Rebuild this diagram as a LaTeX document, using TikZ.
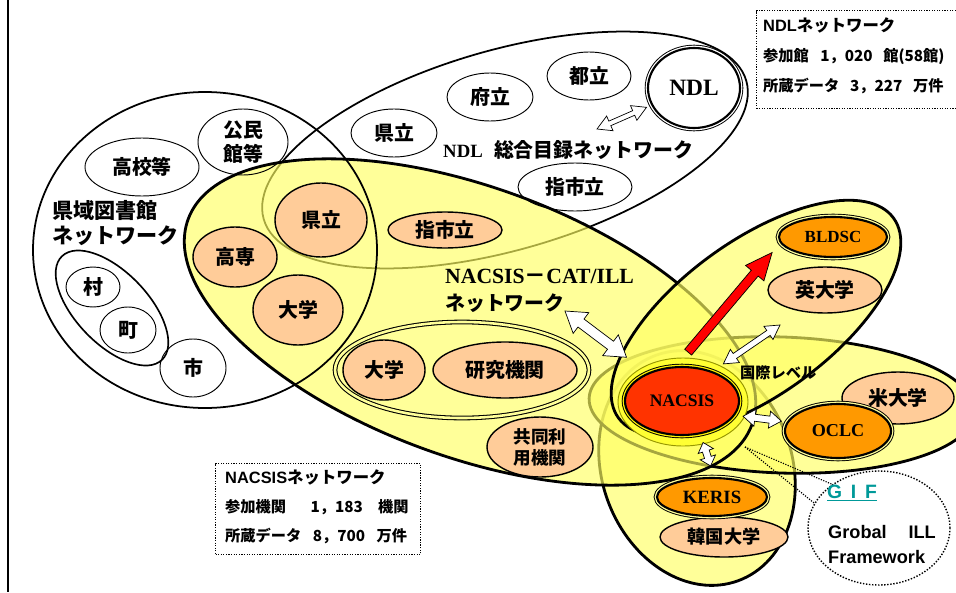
\documentclass[tikz,border=0pt]{standalone}
\usepackage{fontspec}
\setmainfont{Liberation Serif}
\setsansfont{Liberation Sans}
\newfontfamily\cjk{Noto Sans CJK JP}
\usetikzlibrary{calc, shapes.geometric}
\definecolor{netyellow}{RGB}{255,255,98}
\definecolor{paleyellow}{RGB}{255,255,153}
\definecolor{peach}{RGB}{255,204,153}
\definecolor{hubOrange}{RGB}{255,153,0}
\definecolor{hubRed}{RGB}{255,51,0}
\definecolor{haloYellow}{RGB}{255,255,51}
\definecolor{haloLine}{RGB}{150,150,0}
\definecolor{gifTeal}{RGB}{0,153,153}

\begin{document}
\begin{tikzpicture}[x=0.3mm, y=-0.3mm]
\tikzset{ell/.style 2 args={shape=ellipse, inner sep=0pt,
	minimum width=#1*0.6mm, minimum height=#2*0.6mm}}
\tikzset{jp/.style={font=\cjk\bfseries\fontsize{17}{21}\selectfont, align=center}}
\tikzset{lib/.style={draw, line width=0.8pt, jp}}
\tikzset{member/.style={draw, fill=peach, line width=1.2pt, jp}}
\tikzset{net/.style={draw, line width=2.4pt, fill=netyellow, fill opacity=0.65}}
\tikzset{hub/.style={draw, line width=1.8pt, font=\bfseries\fontsize{15}{18}\selectfont,
	preaction={draw=black, line width=5.6pt},
	preaction={draw=#1, line width=4pt}}}
\tikzset{info/.style={anchor=west, inner sep=0pt, font=\cjk\bfseries\fontsize{13}{15}\selectfont}}
\tikzset{infobox/.style={draw, line width=1pt, dash pattern=on 1pt off 1.2pt, inner sep=0pt, anchor=north west}}
\tikzset{callout/.style={line width=1pt, dash pattern=on 1pt off 1.2pt}}
\tikzset{twoway/.style n args={3}{to path={
	(\tikztostart) coordinate (twS) (\tikztotarget) coordinate (twT)
	($(twS)!#3!(twT)$) coordinate (twA) ($(twT)!#3!(twS)$) coordinate (twB)
	(twS) -- ($(twA)!#2!90:(twT)$) -- ($(twA)!#1!90:(twT)$)
	-- ($(twB)!#1!90:(twT)$) -- ($(twB)!#2!90:(twT)$) -- (twT)
	-- ($(twB)!#2!-90:(twT)$) -- ($(twB)!#1!-90:(twT)$)
	-- ($(twA)!#1!-90:(twT)$) -- ($(twA)!#2!-90:(twT)$) -- cycle}}}
\tikzset{oneway/.style n args={3}{to path={
	(\tikztostart) coordinate (owS) (\tikztotarget) coordinate (owT)
	($(owT)!#3!(owS)$) coordinate (owB)
	($(owS)!#1!90:(owT)$) -- ($(owB)!#1!90:(owT)$) -- ($(owB)!#2!90:(owT)$) -- (owT)
	-- ($(owB)!#2!-90:(owT)$) -- ($(owB)!#1!-90:(owT)$) -- ($(owS)!#1!-90:(owT)$) -- cycle}}}
\tikzset{link/.style={fill=white, line width=0.6pt}}

\useasboundingbox (0,0) rectangle (956,592);
\clip (0,0) rectangle (956,592);
\draw[line width=1.7pt] (8,0) -- (8,592);

% networks
\node[ell={251}{100}, draw, line width=1.5pt, rotate=16] (ndlNet) at (505,150) {};
\node[net, ell={120}{95}, rotate=-70] (kerisNet) at (697,468) {};
\node[net, ell={193}{68}, rotate=-2] (oclcNet) at (782,405) {};
\node[net, ell={300}{135}, rotate=-20] (nacsisNet) at (470,322) {};
\node[net, ell={170}{77}, rotate=36] (bldscNet) at (756,318) {};
\node[ell={172}{158}, draw, line width=1.5pt] (prefNet) at (205,250) {};

% prefectural libraries
\node[lib, ell={57}{29}] (koukou) at (142,167) {高校等};
\node[lib, ell={45}{33}] (kouminkan) at (243,142) {公民\\館等};
\node[ell={72}{36}, draw, line width=1.4pt, rotate=-46] (villages) at (112,308) {};
\node[lib, ell={27}{20}] (mura) at (93,287) {村};
\node[lib, ell={28}{23}] (machi) at (128,330) {町};
\node[lib, ell={33}{29}] (shi) at (193,368) {市};
\node[anchor=west, inner sep=0pt, align=left, font=\cjk\bfseries\fontsize{18}{22}\selectfont] (prefLabel) at (52,223) {県域図書館\\ネットワーク};

% NDL union catalog
\node[lib, ell={43}{24}] (ndlKen) at (394,133) {県立};
\node[lib, ell={43}{24}] (ndlFu) at (490,97) {府立};
\node[lib, ell={42}{24}] (ndlTo) at (589,76) {都立};
\node[lib, ell={57}{24}] (ndlShi) at (575,187) {指市立};
\node[hub=white, ell={46}{40}, fill=white, font=\bfseries\fontsize{20}{24}\selectfont] (ndl) at (694,88) {NDL};
\node[anchor=west, inner sep=0pt, font=\bfseries\fontsize{16}{19}\selectfont] (ndlLabel) at (443,150) {NDL\hspace{0.6em}{\cjk\fontsize{17}{19}\selectfont 総合目録ネットワーク}};

% NACSIS-CAT/ILL members
\node[member, ell={46}{37}] (catKen) at (321,220) {県立};
\node[member, ell={42}{30}] (catKosen) at (235,257) {高専};
\node[member, ell={45}{35}] (catUniv) at (298,310) {大学};
\node[member, ell={57}{18}] (catShi) at (445,230) {指市立};
\node[ell={127}{48}, draw, line width=0.9pt, double=paleyellow, double distance=2.2pt] (uniGroup) at (462,370) {};
\node[member, ell={41}{30}] (uniUniv) at (384,370) {大学};
\node[member, ell={72}{28}] (uniInst) at (505,370) {研究機関};
\node[member, ell={53}{30}, font=\cjk\bfseries\fontsize{15}{18}\selectfont] (kyodo) at (540,447) {共同利\\用機関};
\node[anchor=west, inner sep=0pt, align=left, font=\bfseries\fontsize{18.5}{23}\selectfont] (catLabel) at (445,291) {NACSIS{\cjk －}CAT/ILL\\{\cjk\fontsize{17}{23}\selectfont ネットワーク}};

% overseas
\node[member, ell={57}{23}] (ukUniv) at (825,290) {英大学};
\node[member, ell={56}{26}] (usUniv) at (898,398) {米大学};
\node[member, ell={64}{20}, font=\cjk\bfseries\fontsize{15.5}{18}\selectfont] (krUniv) at (724,537) {韓国大学};
\node[hub=paleyellow, ell={54}{20}, fill=hubOrange, font=\bfseries\fontsize{14.5}{17}\selectfont] (bldsc) at (833,237) {BLDSC};
\node[hub=paleyellow, ell={53}{27}, fill=hubOrange, font=\bfseries\fontsize{15.5}{18}\selectfont] (oclc) at (838,431) {OCLC};
\node[hub=paleyellow, ell={55}{19}, fill=hubOrange, font=\bfseries\fontsize{16}{19}\selectfont] (keris) at (712,497) {KERIS};
\node[ell={65}{44}, fill=haloYellow, draw=haloLine, line width=0.8pt] (halo) at (683,402) {};
\node[hub=yellow, ell={57}{34}, fill=hubRed] (nacsis) at (682,401) {NACSIS};
\node[anchor=west, inner sep=0pt, font=\cjk\bfseries\fontsize{13}{15}\selectfont] (intlLabel) at (740,373) {国際レベル};

% links
\coordinate (ndlEnd) at (597,129);
\coordinate (catEnd) at (565,311);
\coordinate (intlEnd) at (780,325);
\draw[link, twoway={0.75mm}{2.4mm}{4.2mm}] (ndlEnd) to ($(ndl.205)+(-6,0)$);
\draw[link, twoway={1.5mm}{3.9mm}{6mm}] (catEnd) to ($(nacsis.142)+(-20,-16)$);
\draw[link, twoway={0.9mm}{2.4mm}{4.2mm}] ($(nacsis.42)+(9,-8)$) to (intlEnd);
\draw[link, twoway={1.05mm}{2.55mm}{3.6mm}] ($(nacsis.-15)+(8,1)$) to ($(oclc.169)+(-6,0)$);
\draw[link, twoway={1.05mm}{2.4mm}{2.7mm}] ($(nacsis.-63)+(4,8)$) to ($(keris.94)+(0,-11)$);
\draw[link, fill=red, oneway={1.35mm}{3.6mm}{8.1mm}] ($(nacsis.80)+(0,-14)$) to ($(bldsc.200)+(-21,1)$);

% GIF
\node[ell={71}{57}, draw, line width=1.2pt, dash pattern=on 1.2pt off 1.4pt] (gif) at (879,528) {};
\coordinate (gifTip) at (745,447);
\draw[callout] (gifTip) -- (gif.159);
\draw[callout] (gifTip) -- (gif.137);
\node[anchor=west, inner sep=0pt, text=gifTeal, font=\sffamily\bfseries\fontsize{16.5}{20}\selectfont] (gifTitle) at (827,493) {\underline{G\hspace{0.45em}I\hspace{0.45em}F}};
\node[anchor=west, inner sep=0pt, font=\sffamily\bfseries\fontsize{15.5}{20}\selectfont] (gifLine1) at (828,532) {Grobal\hspace{1.2em}ILL};
\node[anchor=west, inner sep=0pt, font=\sffamily\bfseries\fontsize{15.5}{20}\selectfont] (gifLine2) at (828,557) {Framework};

% statistics
\node[infobox, minimum width=204*0.3mm, minimum height=98*0.3mm] (ndlBox) at (756,10) {};
\node[info, font=\cjk\bfseries\fontsize{14}{16}\selectfont] (ndlTitle) at (763,25) {{\sffamily NDL}ネットワーク};
\node[info] (ndlMembers) at (763,57) {参加館\hspace{0.75em}1，020\hspace{0.7em}館(58館)};
\node[info] (ndlHoldings) at (763,86) {所蔵データ\hspace{0.7em}3，227\hspace{0.7em}万件};
\node[infobox, minimum width=205*0.3mm, minimum height=91*0.3mm] (nacsisBox) at (215,463) {};
\node[info, font=\cjk\bfseries\fontsize{14}{16}\selectfont] (nacsisTitle) at (225,477) {{\sffamily NACSIS}ネットワーク};
\node[info] (nacsisMembers) at (225,507) {参加機関\hspace{1.6em}1，183\hspace{1em}機関};
\node[info] (nacsisHoldings) at (225,536) {所蔵データ\hspace{0.75em}8，700\hspace{0.75em}万件};
\end{tikzpicture}
\end{document}
